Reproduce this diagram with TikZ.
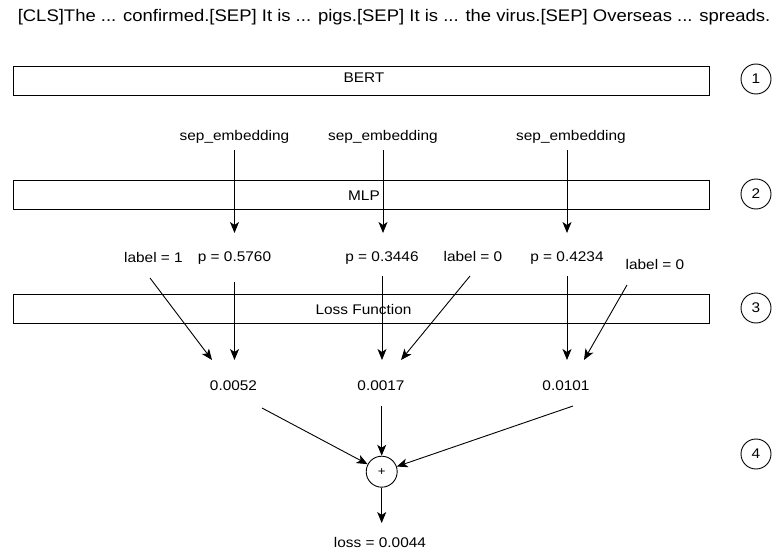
\documentclass[tikz,border=0pt]{standalone}
\usepackage{fontspec}
\setmainfont{Liberation Sans}[FakeStretch=1.1]
\usetikzlibrary{arrows.meta}
\begin{document}
\begin{tikzpicture}[x=1pt,y=-1pt,
  font=\fontsize{14}{16}\selectfont,
  bar/.style={draw,line width=0.9pt,minimum width=696pt,minimum height=29pt,inner sep=0pt},
  num/.style={draw,circle,line width=0.9pt,minimum size=30pt,inner sep=0pt},
  txt/.style={inner sep=0pt,anchor=base},
  arr/.style={line width=0.9pt,-{Stealth[length=11pt,width=9pt,inset=3pt]}},
  plus/.style={draw,circle,line width=0.9pt,minimum size=31pt,inner sep=0pt,font=\fontsize{12}{13}\selectfont}]
\useasboundingbox (0,0) rectangle (780,551);
\node[txt,font=\fontsize{16.8}{18}\selectfont] (title) at (394,22) {[CLS]The ... confirmed.[SEP] It is ... pigs.[SEP] It is ... the virus.[SEP] Overseas ... spreads.};
\node[bar] (bert) at (361,80.5) {};
\node[txt] (bertt) at (364,83) {BERT};
\node[num] (n1) at (756,79) {1};
\node[txt] (s1) at (234.5,140) {sep\_embedding};
\node[txt] (s2) at (383,140) {sep\_embedding};
\node[txt] (s3) at (571,140) {sep\_embedding};
\node[bar] (mlp) at (361,194.5) {};
\node[txt] (mlpt) at (364,200) {MLP};
\node[num] (n2) at (756,194) {2};
\coordinate (e1) at (234.5,150);
\coordinate (e2) at (383,150);
\coordinate (e3) at (567,150);
\coordinate (a1) at (234.5,233);
\coordinate (a2) at (383,233);
\coordinate (a3) at (567,233);
\draw[arr] (e1) -- (a1);
\draw[arr] (e2) -- (a2);
\draw[arr] (e3) -- (a3);
\node[txt] (p1) at (234.5,261) {p = 0.5760};
\node[txt] (p2) at (382,261) {p = 0.3446};
\node[txt] (p3) at (567,261) {p = 0.4234};
\node[txt] (l1) at (153.5,262) {label = 1};
\node[txt] (l2) at (473,261) {label = 0};
\node[txt] (l3) at (655,269) {label = 0};
\node[bar] (loss) at (361,308.5) {};
\node[txt] (losst) at (363.5,314) {Loss Function};
\node[num] (n3) at (756,308) {3};
\node[txt] (v1) at (233.5,390) {0.0052};
\node[txt] (v2) at (381,390) {0.0017};
\node[txt] (v3) at (566,390) {0.0101};
\coordinate (b1) at (150,278);
\coordinate (b2) at (234.5,282);
\coordinate (b3) at (382,276);
\coordinate (b4) at (470,276);
\coordinate (b5) at (567,276);
\coordinate (b6) at (627,285);
\coordinate (c1) at (212,360);
\coordinate (c2) at (234.5,360);
\coordinate (c3) at (382,360);
\coordinate (c4) at (401,360);
\coordinate (c5) at (567,360);
\coordinate (c6) at (584,360);
\draw[arr] (b1) -- (c1);
\draw[arr] (b2) -- (c2);
\draw[arr] (b3) -- (c3);
\draw[arr] (b4) -- (c4);
\draw[arr] (b5) -- (c5);
\draw[arr] (b6) -- (c6);
\node[plus] (sum) at (381.7,471.7) {+};
\node[num] (n4) at (756,454) {4};
\coordinate (d1) at (262,408);
\coordinate (d2) at (381.7,406);
\coordinate (d3) at (573,406);
\draw[arr] (d1) -- (sum);
\draw[arr] (d2) -- (sum);
\draw[arr] (d3) -- (sum);
\node[txt] (out) at (380,547) {loss = 0.0044};
\coordinate (o1) at (381.7,523);
\draw[arr] (sum) -- (o1);
\end{tikzpicture}
\end{document}
